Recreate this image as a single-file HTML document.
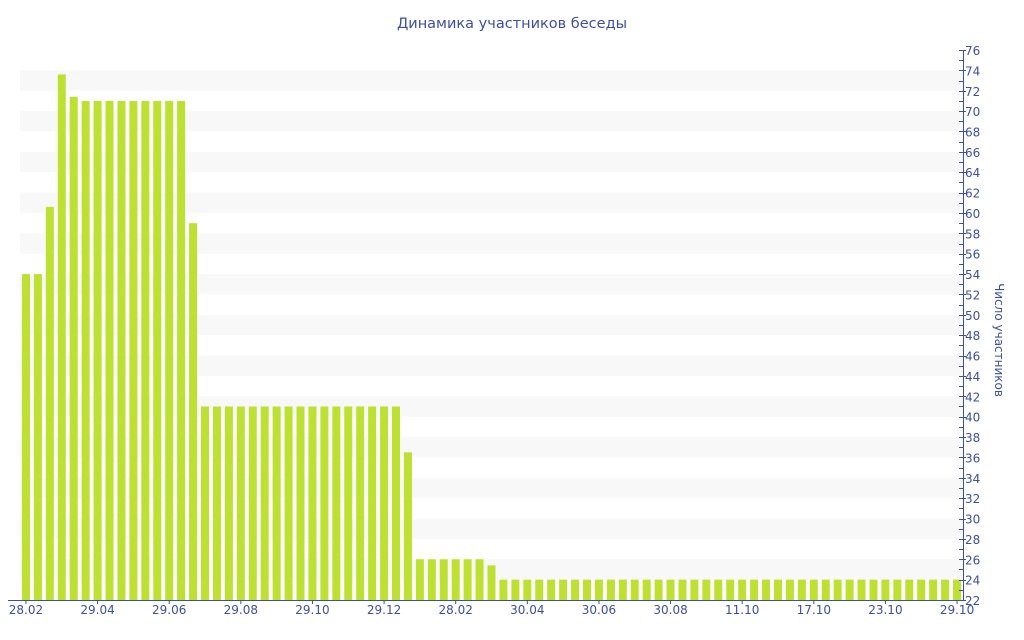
<!DOCTYPE html>
<html><head><meta charset="utf-8"><style>
body{margin:0;background:#fff;}
svg{display:block;font-family:"DejaVu Sans","Liberation Sans",sans-serif;}
</style></head><body>
<svg width="1024" height="640" xmlns="http://www.w3.org/2000/svg">
<text x="512" y="28" text-anchor="middle" font-size="14.5" fill="#3d4f9f">Динамика участников беседы</text>
<g id="stripes" fill="#f8f8f8"></g>
<g id="bars" fill="#bde032"></g>
<g id="axis" stroke="#3d4f9f" stroke-width="1"></g>
<g id="labels" font-size="12" fill="#3d4f9f"></g>
<text transform="translate(995,340) rotate(90)" text-anchor="middle" font-size="12" fill="#3d4f9f">Число участников</text>
</svg>
<script>
const NS="http://www.w3.org/2000/svg";
function el(p,t,a,txt){const e=document.createElementNS(NS,t);for(const k in a)e.setAttribute(k,a[k]);if(txt!=null)e.textContent=txt;document.getElementById(p).appendChild(e);}
const Y=v=>600-(v-22)*10.185;
for(let v=72;v>=24;v-=4){el("stripes","rect",{x:20,y:Y(v+2),width:943,height:Y(v)-Y(v+2)});}
const vals=[54,54,60.6,73.6,71.4];
for(let i=5;i<=13;i++)vals.push(71);
vals.push(59);
for(let i=15;i<=31;i++)vals.push(41);
vals.push(36.5);
for(let i=33;i<=38;i++)vals.push(26);
vals.push(25.4);
while(vals.length<79)vals.push(24);
const bw=943/79;
vals.forEach((v,i)=>{const cx=20+bw*(i+0.5);el("bars","rect",{x:cx-4,y:Y(v),width:8,height:600-Y(v)});});
el("axis","line",{x1:963.5,y1:50,x2:963.5,y2:601});
el("axis","line",{x1:8,y1:600.5,x2:964,y2:600.5});
for(let v=22;v<=76;v++){const y=Math.round(Y(v))+0.5;el("axis","line",{x1:959,y1:y,x2:v%2?963:966,y2:y});
 if(v%2==0)el("labels","text",{x:965,y:Y(v)+5},String(v));}
const lbl=["28.02","29.04","29.06","29.08","29.10","29.12","28.02","30.04","30.06","30.08","11.10","17.10","23.10","29.10"];
lbl.forEach((t,k)=>{const cx=20+bw*(k*6+0.5);el("axis","line",{x1:cx,y1:600,x2:cx,y2:604});el("labels","text",{x:cx,y:614,"text-anchor":"middle"},t);});
</script>
</body></html>
